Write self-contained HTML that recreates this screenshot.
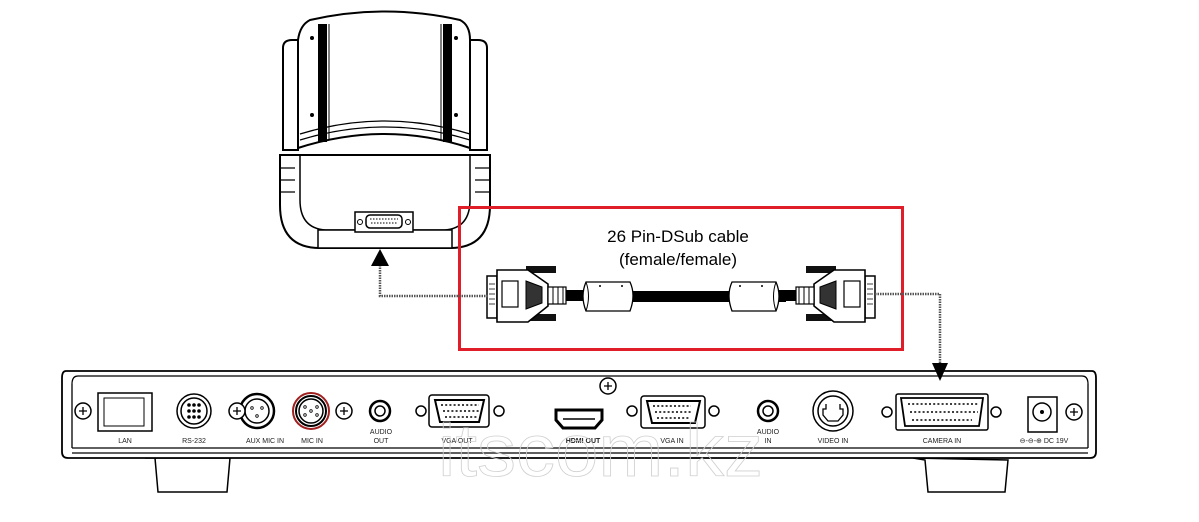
<!DOCTYPE html>
<html><head><meta charset="utf-8"><style>
html,body{margin:0;padding:0;background:#fff;}
svg{display:block;}
text{font-family:"Liberation Sans",sans-serif;}
</style></head><body>
<svg width="1199" height="522" viewBox="0 0 1199 522" xmlns="http://www.w3.org/2000/svg">
<defs>
<g id="conn">
  <rect x="487" y="276" width="10" height="42" fill="#fff" stroke="#000" stroke-width="1.5"/>
  <g stroke="#000" stroke-width="0.8" fill="none">
    <path d="M489 284h6M489 289h6M489 294h6M489 299h6M489 304h6"/>
  </g>
  <rect x="526" y="266" width="30" height="7" fill="#111"/>
  <rect x="526" y="314" width="30" height="7" fill="#111"/>
  <path d="M497 270 H528 L548 284 V306 L528 322 H497 Z" fill="#fff" stroke="#000" stroke-width="1.6"/>
  <rect x="502" y="281" width="16" height="26" fill="#fff" stroke="#000" stroke-width="1.2"/>
  <path d="M526 281 L542 287 V303 L526 309 Z" fill="#333" stroke="#000"/>
  <rect x="548" y="287" width="18" height="17" fill="#fff" stroke="#000" stroke-width="1.2"/>
  <path d="M553 287v17M558 287v17M563 287v17" stroke="#000"/>
  <rect x="566" y="290" width="20" height="11" fill="#000"/>
  <path d="M586 282 h44 q6 13 0 29 h-44 q-6 -15 0 -29z" fill="#fff" stroke="#000" stroke-width="1.3"/>
  <path d="M586 282 q5 14 0 29" fill="none" stroke="#000"/>
  <circle cx="600" cy="286" r="1" fill="#000"/><circle cx="622" cy="286" r="1" fill="#000"/>
</g>
<g id="screw"><circle r="8" fill="#fff" stroke="#000" stroke-width="1.5"/><path d="M-4 0h8M0 -4v8" stroke="#000" stroke-width="1.3"/></g>
</defs>

<!-- Camera -->
<g fill="#fff" stroke="#000" stroke-width="2">
  <path d="M283 48 Q283 40 292 40 L298 40 L298 150 L283 150 Z"/>
  <path d="M487 48 Q487 40 478 40 L470 40 L470 150 L487 150 Z"/>
  <path d="M298 40 Q300 25 310 20 Q385 3 460 20 Q470 25 470 40 L470 148 Q385 120 298 148 Z"/>
  <path d="M280 155 L490 155 L490 205 Q490 248 450 248 L320 248 Q280 248 280 205 Z"/>
  <path d="M300 155 L300 200 Q300 228 325 230 L445 230 Q470 228 470 200 L470 155" fill="none" stroke-width="1.5"/>
  <rect x="318" y="230" width="134" height="18" stroke-width="1.5"/>
</g>
<path d="M300 134 Q385 108 470 134 M300 140 Q385 114 470 140" fill="none" stroke="#000" stroke-width="1.3"/>
<rect x="318" y="24" width="9" height="118" fill="#000"/><rect x="443" y="24" width="9" height="118" fill="#000"/>
<path d="M329 24v116M441 24v116" stroke="#000" stroke-width="1"/>
<circle cx="312" cy="38" r="2" fill="#000"/><circle cx="312" cy="115" r="2" fill="#000"/>
<circle cx="456" cy="38" r="2" fill="#000"/><circle cx="456" cy="115" r="2" fill="#000"/>
<g stroke="#000" stroke-width="1.2"><path d="M280 168h15M280 180h15M280 192h15M475 168h15M475 180h15M475 192h15"/></g>
<rect x="355" y="212" width="58" height="20" fill="#fff" stroke="#000" stroke-width="1.5"/>
<rect x="366" y="215" width="36" height="13" rx="4" fill="#fff" stroke="#000" stroke-width="1.5"/>
<path d="M370 219h28M371 223h26" stroke="#000" stroke-dasharray="1.5 1.5"/>
<circle cx="360" cy="222" r="2.5" fill="none" stroke="#000"/><circle cx="408" cy="222" r="2.5" fill="none" stroke="#000"/>

<!-- cable -->
<rect x="586" y="291" width="200" height="11" fill="#000"/>
<use href="#conn"/>
<use href="#conn" transform="translate(1362,0) scale(-1,1)"/>

<!-- red box -->
<rect x="459.5" y="207.5" width="443" height="142" fill="none" stroke="#e01e2a" stroke-width="3"/>
<text x="678" y="242" font-size="17" text-anchor="middle">26 Pin-DSub cable</text>
<text x="678" y="265" font-size="17" text-anchor="middle">(female/female)</text>

<!-- device -->
<path d="M145 458 L155 458 L158 492 L227 492 L230 458 Z" fill="#fff" stroke="#000" stroke-width="1.5"/>
<path d="M913 458 L925 460 L928 492 L1005 492 L1008 460 Z" fill="#fff" stroke="#000" stroke-width="1.5"/>
<path d="M66 371 H1092 Q1096 371 1096 378 V452 Q1096 458 1090 458 H68 Q62 458 62 452 V378 Q62 371 66 371 Z" fill="#fff" stroke="#000" stroke-width="1.8"/>
<path d="M72 384 Q72 376 78 376 H1082 Q1088 376 1088 384" fill="none" stroke="#000" stroke-width="1.2"/>
<path d="M72 448 H1088 M72 453 H1088" stroke="#000" stroke-width="1.3"/>
<path d="M72 384 V448 M1088 384 V448" stroke="#000" stroke-width="1.3"/>

<!-- arrows / dotted -->
<path d="M380 265 V296 H488" fill="none" stroke="#555" stroke-width="2.5" stroke-dasharray="1.5 1"/>
<path d="M371 266 L380 249 L389 266 Z" fill="#000"/>
<path d="M875 294 H940 V364" fill="none" stroke="#555" stroke-width="2.5" stroke-dasharray="1.5 1"/>
<path d="M932 363 L940 381 L948 363 Z" fill="#000"/>

<g fill="none" stroke="#000" stroke-width="1.5">
  <rect x="98" y="393" width="54" height="38"/>
  <rect x="104" y="398" width="40" height="28" stroke-width="1"/>
  <circle cx="194" cy="411" r="17"/><circle cx="194" cy="411" r="13"/>
  <circle cx="257" cy="411" r="17" stroke-width="2.5"/><circle cx="257" cy="411" r="12"/>
  <circle cx="311" cy="411" r="18" stroke="#a02020" stroke-width="2"/><circle cx="311" cy="411" r="15" stroke-width="2"/><circle cx="311" cy="411" r="12"/>
  <circle cx="380" cy="411" r="10" stroke-width="2.5"/><circle cx="380" cy="411" r="5"/>
  <rect x="429" y="395" width="60" height="32" rx="3"/><path d="M435 400 H484 L479 422 H440 Z" stroke-width="2"/>
  <circle cx="421" cy="411" r="5"/><circle cx="499" cy="411" r="5"/>
  <path d="M556 410 H602 V420 L595 428 H563 L556 420 Z" stroke-width="3"/><path d="M563 419h32"/>
  <rect x="641" y="396" width="64" height="32" rx="3"/><path d="M647 401 H700 L695 423 H652 Z" stroke-width="2"/>
  <circle cx="632" cy="411" r="5"/><circle cx="714" cy="411" r="5"/>
  <circle cx="768" cy="411" r="10" stroke-width="2.5"/><circle cx="768" cy="411" r="5"/>
  <circle cx="833" cy="411" r="20"/><circle cx="833" cy="411" r="15"/>
  <rect x="896" y="394" width="92" height="36" rx="2"/><path d="M901 398 H983 L979 426 H905 Z" stroke-width="1.8"/>
  <circle cx="887" cy="412" r="5"/><circle cx="996" cy="412" r="5"/>
  <rect x="1028" y="397" width="29" height="35"/><circle cx="1042" cy="412" r="9"/>
</g>
<circle cx="1042" cy="412" r="2" fill="#000"/>
<g fill="#000">
  <circle cx="189" cy="405" r="1.8"/><circle cx="194" cy="405" r="1.8"/><circle cx="199" cy="405" r="1.8"/>
  <circle cx="189" cy="411" r="1.8"/><circle cx="194" cy="411" r="1.8"/><circle cx="199" cy="411" r="1.8"/>
  <circle cx="189" cy="417" r="1.8"/><circle cx="194" cy="417" r="1.8"/><circle cx="199" cy="417" r="1.8"/>
</g>
<g fill="none" stroke="#000" stroke-width="0.8">
  <circle cx="252" cy="408" r="1.3"/><circle cx="262" cy="408" r="1.3"/><circle cx="257" cy="416" r="1.3"/>
  <circle cx="305" cy="407" r="1.3"/><circle cx="317" cy="407" r="1.3"/><circle cx="311" cy="411" r="1.3"/><circle cx="305" cy="415" r="1.3"/><circle cx="317" cy="415" r="1.3"/>
</g>
<g stroke="#000" stroke-width="1.6" stroke-dasharray="2 2.2">
  <path d="M441 405h38M443 411h36M445 417h32"/>
  <path d="M653 406h38M655 412h36M657 418h32"/>
  <path d="M908 404h70M910 412h68M912 420h60"/>
</g>
<path d="M826 404 v5 h-3 v6 l5 6 h10 l5 -6 v-6 h-3 v-5" fill="none" stroke="#000" stroke-width="1.3"/>
<use href="#screw" x="83" y="411"/><use href="#screw" x="237" y="411"/><use href="#screw" x="344" y="411"/>
<use href="#screw" x="608" y="386"/><use href="#screw" x="1074" y="412"/>

<g font-size="7" text-anchor="middle" fill="#222">
  <text x="125" y="443">LAN</text><text x="194" y="443">RS-232</text>
  <text x="265" y="443">AUX MIC IN</text><text x="312" y="443">MIC IN</text>
  <text x="381" y="434">AUDIO</text><text x="381" y="443">OUT</text>
  <text x="457" y="443">VGA OUT</text><text x="583" y="443" font-weight="bold">HDMI OUT</text>
  <text x="672" y="443">VGA IN</text>
  <text x="768" y="434">AUDIO</text><text x="768" y="443">IN</text>
  <text x="833" y="443">VIDEO IN</text><text x="942" y="443">CAMERA IN</text>
  <text x="1044" y="443">⊖-⊖-⊕ DC 19V</text>
</g>
<text x="438" y="476" font-size="74" fill="none" stroke="#d0d0d0" stroke-width="0.8" textLength="325" lengthAdjust="spacingAndGlyphs">itscom.kz</text>
</svg>
</body></html>
